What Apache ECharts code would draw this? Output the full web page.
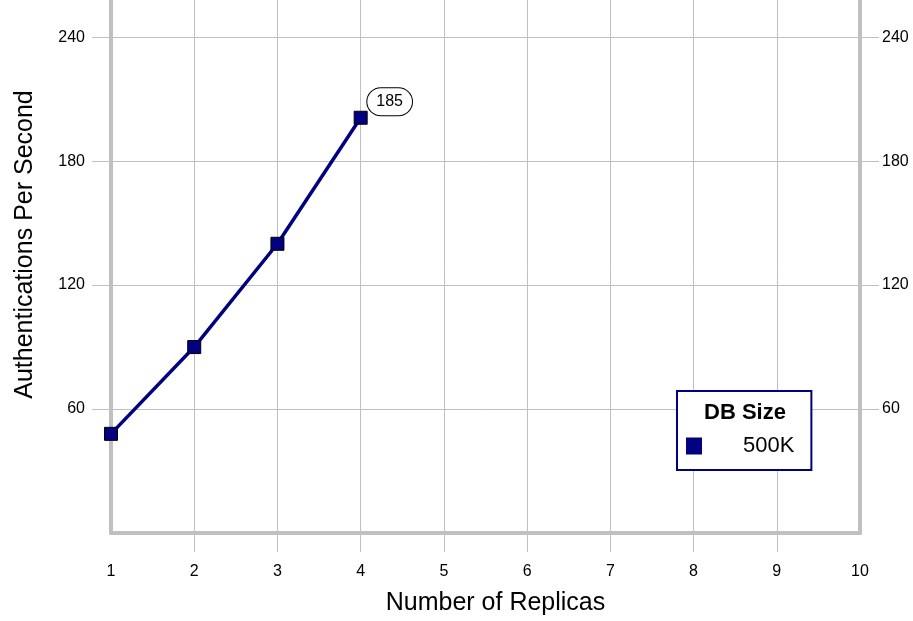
<!DOCTYPE html>
<html>
<head>
<meta charset="utf-8">
<script src="https://cdn.jsdelivr.net/npm/echarts@6/dist/echarts.min.js"></script>
<style>
html,body{margin:0;padding:0;background:#fff;}
#chart{width:913px;height:621px;}
</style>
</head>
<body>
<div id="chart"></div>
<script>
// Data
const replicas = [1, 2, 3, 4];
const authPerSecond = [48, 90, 140, 201];
const pointLabels = ['', '', '', '185'];
const seriesName = '500K';
const legendTitle = 'DB Size';
const xAxisName = 'Number of Replicas';
const yAxisName = 'Authentications Per Second';
const xTickLabels = [1, 2, 3, 4, 5, 6, 7, 8, 9, 10];
const xInnerTicks = [2, 3, 4, 5, 6, 7, 8, 9];
const yTickLabels = [60, 120, 180, 240];

const FONT = "'Liberation Sans', Arial, Helvetica, sans-serif";
const GRID_GREY = '#c0c0c0';
const NAVY = '#000080';

const chart = echarts.init(document.getElementById('chart'), null, {renderer: 'canvas'});

const yAxisCommon = {
  type: 'value',
  min: 0,
  max: 258,
  axisLine: {show: true, lineStyle: {color: GRID_GREY, width: 4}},
  axisTick: {show: true, length: 19, inside: false, customValues: yTickLabels,
             lineStyle: {color: GRID_GREY, width: 1}},
  axisLabel: {fontFamily: FONT, fontSize: 16, color: '#000', customValues: yTickLabels}
};

const seriesData = replicas.map((x, i) => {
  const item = {value: [x, authPerSecond[i]]};
  if (pointLabels[i]) {
    item.label = {
      show: true,
      position: 'inside',
      offset: [29, -16],
      formatter: pointLabels[i],
      fontFamily: FONT,
      fontSize: 16,
      color: '#000',
      backgroundColor: '#fff',
      borderColor: '#000',
      borderWidth: 1,
      borderRadius: 15,
      padding: [6, 9, 5, 9]
    };
  }
  return item;
});

chart.setOption({
  animation: false,
  backgroundColor: '#fff',
  title: {
    text: legendTitle,
    left: 699,
    top: 397,
    textAlign: 'left',
    textStyle: {fontFamily: FONT, fontSize: 22, fontWeight: 'bold', color: '#000'}
  },
  grid: {left: 111, right: 53, top: 0, bottom: 88, containLabel: false},
  legend: {
    left: 677,
    top: 391,
    orient: 'vertical',
    backgroundColor: '#fff',
    borderColor: NAVY,
    borderWidth: 2,
    padding: [44, 17, 13, 9],
    itemWidth: 16,
    itemHeight: 17,
    icon: 'rect',
    textStyle: {fontFamily: FONT, fontSize: 22, color: '#000', padding: [0, 0, 0, 36]},
    data: [{name: seriesName, itemStyle: {color: NAVY, borderWidth: 0}}]
  },
  xAxis: {
    type: 'value',
    min: 1,
    max: 10,
    name: xAxisName,
    nameLocation: 'middle',
    nameGap: 58,
    nameTextStyle: {fontFamily: FONT, fontSize: 25, color: '#000', padding: [0, 0, 0, 20]},
    axisLine: {show: true, onZero: false, lineStyle: {color: GRID_GREY, width: 4}},
    axisTick: {show: true, length: 19, inside: false, customValues: xInnerTicks,
               lineStyle: {color: GRID_GREY, width: 1}},
    axisLabel: {fontFamily: FONT, fontSize: 16, color: '#000', margin: 31, customValues: xTickLabels},
    splitLine: {show: true, lineStyle: {color: GRID_GREY, width: 1}}
  },
  yAxis: [
    Object.assign({}, yAxisCommon, {
      position: 'left',
      name: yAxisName,
      nameLocation: 'middle',
      nameGap: 73,
      nameTextStyle: {fontFamily: FONT, fontSize: 25, color: '#000', padding: [0, 0, 0, 44]},
      axisLabel: Object.assign({}, yAxisCommon.axisLabel, {margin: 26}),
      splitLine: {show: true, lineStyle: {color: GRID_GREY, width: 1}}
    }),
    Object.assign({}, yAxisCommon, {
      position: 'right',
      axisLabel: Object.assign({}, yAxisCommon.axisLabel, {margin: 22}),
      splitLine: {show: false}
    })
  ],
  series: [{
    name: seriesName,
    type: 'line',
    data: seriesData,
    lineStyle: {color: NAVY, width: 3.5},
    itemStyle: {color: NAVY, borderColor: '#000', borderWidth: 1},
    symbol: 'rect',
    symbolSize: 13,
    showAllSymbol: true,
    z: 3,
    label: {show: false}
  }]
});
</script>
</body>
</html>
